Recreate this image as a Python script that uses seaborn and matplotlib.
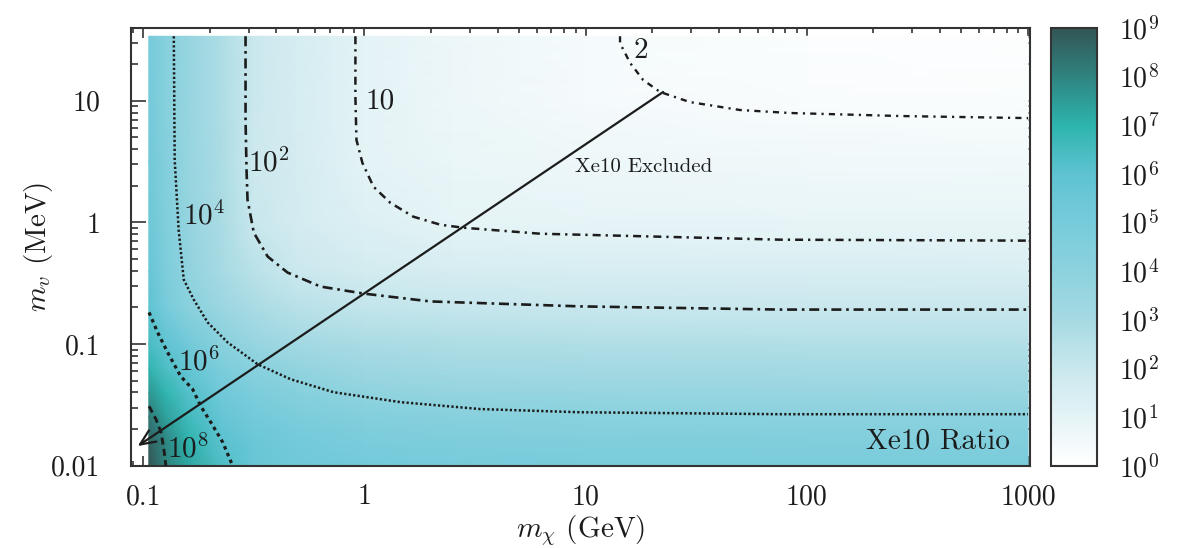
import numpy as np
import pandas as pd
import seaborn as sns
import matplotlib.pyplot as plt
from matplotlib.colors import LogNorm
from matplotlib.ticker import FixedLocator, FixedFormatter, LogLocator, NullFormatter

# ratio map: log10(m_chi / GeV) columns, log10(m_v / MeV) rows, log10(ratio) cells
log_mx = [-0.975, -0.9, -0.8, -0.65, -0.5, -0.3, 0.0, 0.4, 1.0, 2.0, 3.0]
log_mv = [-2.0, -1.8, -1.6, -1.4, -1.2, -1.0, -0.7, -0.4, 0.0, 0.5, 1.0, 1.53]
log_ratio = [
    [9.0, 8.05, 7.3, 6.35, 5.6, 5.3, 5.1, 5.0, 4.92, 4.9, 4.9],
    [8.7, 7.95, 7.0, 6.05, 5.5, 5.1, 4.8, 4.65, 4.55, 4.5, 4.5],
    [8.25, 7.4, 6.6, 5.7, 5.15, 4.75, 4.45, 4.25, 4.15, 4.1, 4.1],
    [7.6, 6.95, 6.2, 5.3, 4.75, 4.3, 3.85, 3.72, 3.6, 3.56, 3.55],
    [6.9, 6.35, 5.7, 4.75, 4.15, 3.75, 3.35, 3.15, 3.08, 3.05, 3.05],
    [6.4, 5.95, 5.2, 4.2, 3.6, 3.15, 2.9, 2.75, 2.68, 2.65, 2.63],
    [5.95, 5.0, 4.2, 3.45, 2.9, 2.45, 2.18, 2.07, 2.02, 2.0, 1.99],
    [5.65, 4.7, 3.85, 3.0, 2.4, 1.92, 1.65, 1.52, 1.47, 1.45, 1.44],
    [5.4, 4.55, 3.7, 2.9, 1.97, 1.6, 1.25, 0.95, 0.9, 0.87, 0.86],
    [5.2, 4.4, 3.65, 2.85, 1.85, 1.55, 1.0, 0.8, 0.65, 0.57, 0.55],
    [5.1, 4.3, 3.6, 2.8, 1.9, 1.5, 1.0, 0.7, 0.42, 0.24, 0.2],
    [5.0, 4.3, 3.6, 2.8, 1.9, 1.5, 1.0, 0.7, 0.36, 0.17, 0.12],
]

# contour lines (m_chi in GeV, m_v in MeV)
c2_mx = [14.3, 14.3, 15.9, 18.2, 21.7, 29.6, 49.9, 83.8, 263, 1000]
c2_mv = [33.9, 29.7, 20.4, 14.8, 11.8, 9.75, 8.39, 7.93, 7.49, 7.2]
c10_mx = [0.910, 0.910, 0.920, 0.979, 1.099, 1.309, 1.663, 2.203, 2.799, 6.237, 75.5, 1000]
c10_mv = [33.9, 10.7, 4.76, 3.08, 1.963, 1.449, 1.114, 0.957, 0.904, 0.807, 0.721, 0.708]
c1e2_mx = [0.290, 0.290, 0.293, 0.296, 0.316, 0.365, 0.449, 0.632, 0.990, 1.986, 9.44, 75.5, 1000]
c1e2_mv = [33.9, 6.95, 2.70, 1.535, 0.824, 0.524, 0.387, 0.297, 0.260, 0.224, 0.204, 0.192, 0.192]
c1e4_mx = [0.1374, 0.1387, 0.1445, 0.1524, 0.1690, 0.1954, 0.2404, 0.3289, 0.4634, 0.7244,
           1.455, 3.342, 9.44, 75.5, 1000]
c1e4_mv = [33.9, 3.27, 0.871, 0.339, 0.2323, 0.1507, 0.1033, 0.0682, 0.0514, 0.0402,
           0.0333, 0.0292, 0.0275, 0.0265, 0.0265]
c1e6_mx = [0.1062, 0.1161, 0.1288, 0.1476, 0.1671, 0.1820, 0.2018, 0.2286, 0.2535]
c1e6_mv = [0.1820, 0.1247, 0.0855, 0.0543, 0.0426, 0.0308, 0.0228, 0.0156, 0.0100]
c1e8_mx = [0.1062, 0.1140, 0.1202, 0.1239, 0.1265]
c1e8_mv = [0.0308, 0.0242, 0.0189, 0.0137, 0.0100]

contour_label_text = ['2', '10', r'$10^2$', r'$10^4$', r'$10^6$', r'$10^8$']
contour_label_mx = [16.4, 1.01, 0.299, 0.152, 0.143, 0.1277]
contour_label_mv = [22.4, 8.71, 2.61, 0.957, 0.0608, 0.01178]

# Xe10 exclusion arrow
arrow_mx = [22.4, 0.0944]
arrow_mv = [11.8, 0.0145]

x_tick_values = [0.1, 1, 10, 100, 1000]
x_tick_labels = ['0.1', '1', '10', '100', '1000']
y_tick_values = [0.01, 0.1, 1, 10]
y_tick_labels = ['0.01', '0.1', '1', '10']
cbar_ticks = [10.0 ** k for k in range(10)]

cmap_colors = ['#ffffff', '#e4f3f6', '#c8e7ed', '#a6dae3', '#8cd2de', '#77cbdb',
               '#5ec3d1', '#2db4ae', '#2f8480', '#335555']

sns.set_style('ticks')
plt.rcParams['font.family'] = ['cmr10', 'DejaVu Serif']
plt.rcParams['mathtext.fontset'] = 'cm'
plt.rcParams['axes.formatter.use_mathtext'] = True
plt.rcParams['axes.unicode_minus'] = False
ink = '#1c1c1c'

fig = plt.figure(figsize=(11.79, 5.48), dpi=100)
ax = fig.add_axes([0.1111, 0.1502, 0.7625, 0.7996])
cax = fig.add_axes([0.8914, 0.1502, 0.0390, 0.7993])

cmap = sns.blend_palette(cmap_colors, as_cmap=True)
norm = LogNorm(vmin=1, vmax=1e9)

MX, MV = np.meshgrid(10.0 ** np.array(log_mx), 10.0 ** np.array(log_mv))
ratio = 10.0 ** np.array(log_ratio)
mesh = ax.pcolormesh(MX, MV, ratio, shading='gouraud', cmap=cmap, norm=norm, zorder=1)

ax.set_xscale('log')
ax.set_yscale('log')
ax.set_xlim(0.088, 1020)
ax.set_ylim(0.01, 40)
ax.set_facecolor('white')

contours = [
    ('2', c2_mx, c2_mv, (0, (2.6, 2.2, 0.9, 2.2)), 1.7),
    ('10', c10_mx, c10_mv, (0, (3.2, 2.0, 0.9, 2.0)), 1.8),
    ('1e2', c1e2_mx, c1e2_mv, (0, (3.8, 1.8, 1.0, 1.8)), 1.9),
    ('1e4', c1e4_mx, c1e4_mv, (0, (0.9, 0.9)), 1.8),
    ('1e6', c1e6_mx, c1e6_mv, (0, (1.1, 1.2)), 2.3),
    ('1e8', c1e8_mx, c1e8_mv, (0, (2.4, 1.5)), 2.1),
]
for name, xs, ys, ls, lw in contours:
    df = pd.DataFrame({'mx': xs, 'mv': ys})
    sns.lineplot(data=df, x='mx', y='mv', sort=False, estimator=None, errorbar=None,
                 color=ink, linewidth=lw, linestyle=ls, ax=ax, zorder=3)

for txt, xv, yv in zip(contour_label_text, contour_label_mx, contour_label_mv):
    ax.text(xv, yv, txt, fontsize=21, color=ink, ha='left', va='baseline', zorder=4)

ax.annotate('', xy=(arrow_mx[1], arrow_mv[1]), xytext=(arrow_mx[0], arrow_mv[0]),
            arrowprops=dict(arrowstyle='->, head_length=0.5, head_width=0.22',
                            color=ink, lw=1.6, mutation_scale=22, shrinkA=0, shrinkB=0),
            zorder=4)
ax.text(8.97, 2.61, 'Xe10 Excluded', fontsize=15, color=ink, ha='left', va='baseline', zorder=4)
ax.text(0.978, 0.040, 'Xe10 Ratio', transform=ax.transAxes, fontsize=21, color=ink,
        ha='right', va='baseline', zorder=4)

ax.xaxis.set_major_locator(FixedLocator(x_tick_values))
ax.xaxis.set_major_formatter(FixedFormatter(x_tick_labels))
ax.yaxis.set_major_locator(FixedLocator(y_tick_values))
ax.yaxis.set_major_formatter(FixedFormatter(y_tick_labels))
for axis in (ax.xaxis, ax.yaxis):
    axis.set_minor_locator(LogLocator(base=10, subs=np.arange(2, 10), numticks=30))
    axis.set_minor_formatter(NullFormatter())

ax.tick_params(which='both', direction='in', top=True, right=True, color='#333333',
               labelcolor=ink, labelsize=20, width=1.2)
ax.tick_params(axis='x', which='major', length=7, pad=13)
ax.tick_params(axis='x', which='minor', length=3.5)
ax.tick_params(axis='y', which='major', length=11, pad=22)
ax.tick_params(axis='y', which='minor', length=5)
for sp in ax.spines.values():
    sp.set_linewidth(1.5)
    sp.set_color('#333333')

ax.set_xlabel(r'$m_\chi$ (GeV)', fontsize=21, color=ink)
ax.xaxis.set_label_coords(0.5, -0.108)
ax.set_ylabel(r'$m_v$ (MeV)', fontsize=21, color=ink)
ax.yaxis.set_label_coords(-0.085, 0.5)

cb = fig.colorbar(mesh, cax=cax)
cb.set_ticks(cbar_ticks)
cb.ax.yaxis.set_minor_locator(LogLocator(base=10, subs=(2, 5, 8), numticks=30))
cb.ax.yaxis.set_minor_formatter(NullFormatter())
cb.outline.set_linewidth(1.5)
cb.outline.set_edgecolor('#333333')
cb.ax.tick_params(which='both', direction='in', left=True, right=True, labelleft=False,
                  labelright=True, color='#333333', labelcolor=ink, labelsize=20, width=1.2, pad=16)
cb.ax.tick_params(which='major', length=7)
cb.ax.tick_params(which='minor', length=3.5)

fig.savefig('out.png', dpi=100)
plt.close(fig)
